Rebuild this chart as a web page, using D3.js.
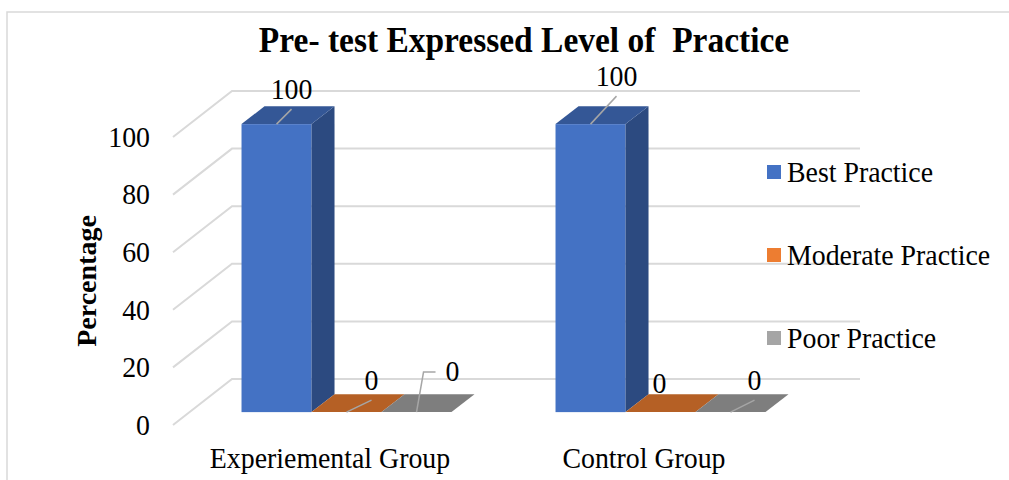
<!DOCTYPE html>
<html lang="en">
<head>
    <meta charset="UTF-8">
    <title>Pre- test Expressed Level of Practice</title>
    <script src="https://cdn.jsdelivr.net/npm/d3@7"></script>
    <style>
        body { margin: 0; background: #fff; }
        text { font-family: "Liberation Serif", "Times New Roman", serif; fill: #000; }
    </style>
</head>
<body>
    <div id="chart"></div>
    <script>
        // data
        var categories = ["Experiemental Group", "Control Group"];
        var seriesNames = ["Best Practice", "Moderate Practice", "Poor Practice"];
        var bestPractice = [100, 100];
        var moderatePractice = [0, 0];
        var poorPractice = [0, 0];
        var yTicks = [0, 20, 40, 60, 80, 100];

        var seriesValues = [bestPractice, moderatePractice, poorPractice];
        var colors = ["#4472c4", "#ed7d31", "#a5a5a5"];

        var width = 1009, height = 480;
        // depth of the 3d box (back wall offset) and bar depth range
        var DX = 59, DY = 46, d0 = 0.28, d1 = 0.67;
        var FS = 29, SX = 0.96;   // text looks a bit condensed in the original

        var svg = d3.select("#chart").append("svg")
            .attr("width", width).attr("height", height);

        // condensed text at (x,y)
        function label(g, x, y, txt, size, sx) {
            return g.append("text")
                .attr("transform", "translate(" + x + "," + y + ") scale(" + sx + ",1)")
                .style("font-size", size + "px")
                .text(txt);
        }

        // frame
        svg.append("path")
            .attr("d", "M7," + height + "V12H" + width)
            .attr("fill", "none").attr("stroke", "#d9d9d9").attr("stroke-width", 1.5);

        // scales (front floor plane)
        var x0 = d3.scaleBand().domain(categories).range([173, 801]);
        var x1 = d3.scaleBand().domain(seriesNames).range([52, 262]);
        var y = d3.scaleLinear().domain([0, 100]).range([425, 137]);

        function pt(x, v, d) { return [x + DX * d, y(v) - DY * d]; }

        // gridlines: side wall diagonals + back wall
        var grid = svg.append("g").attr("stroke", "#d9d9d9").attr("stroke-width", 2).attr("fill", "none");
        yTicks.forEach(function (t) {
            var a = pt(173, t, 0), b = pt(173, t, 1), c = pt(801, t, 1);
            grid.append("path").attr("d", d3.line()([a, b, c]));
        });

        function styleAxis(g) {
            g.select(".domain").remove();
            g.selectAll("text").style("font-size", FS + "px")
                .style("font-family", "'Liberation Serif', serif").attr("fill", "#000")
                .attr("transform", "scale(" + SX + ",1)");
        }

        // y axis labels
        svg.append("g")
            .attr("transform", "translate(173,0)")
            .call(d3.axisLeft(y).tickValues(yTicks).tickSize(0).tickPadding(24))
            .call(styleAxis);

        // x axis labels
        svg.append("g")
            .attr("transform", "translate(0,425)")
            .call(d3.axisBottom(x0).tickSize(0).tickPadding(22))
            .call(styleAxis);

        // y axis title
        svg.append("text")
            .attr("transform", "translate(96,281) rotate(-90)")
            .attr("text-anchor", "middle")
            .style("font-size", "28px").style("font-weight", "bold")
            .text("Percentage");

        // title
        label(svg, 524, 52, "Pre- test Expressed Level of  Practice", 36, 0.93)
            .attr("text-anchor", "middle")
            .style("font-weight", "bold")
            .style("white-space", "pre");

        // bars
        var bars = svg.append("g");
        categories.forEach(function (cat, ci) {
            seriesNames.forEach(function (s, si) {
                var v = seriesValues[si][ci];
                var xl = x0(cat) + x1(s), xr = xl + x1.bandwidth();
                var c = d3.color(colors[si]);
                var g = bars.append("g");
                var f0 = pt(xl, v, d0), f1 = pt(xr, 0, d0);
                g.append("rect")
                    .attr("x", f0[0]).attr("y", f0[1])
                    .attr("width", f1[0] - f0[0]).attr("height", f1[1] - f0[1])
                    .attr("fill", c.formatHex());
                g.append("path")
                    .attr("d", d3.line()([pt(xr, v, d0), pt(xr, v, d1), pt(xr, 0, d1), pt(xr, 0, d0)]) + "Z")
                    .attr("fill", c.darker(1.2).formatHex());
                g.append("path")
                    .attr("d", d3.line()([pt(xl, v, d0), pt(xr, v, d0), pt(xr, v, d1), pt(xl, v, d1)]) + "Z")
                    .attr("fill", c.darker(0.75).formatHex());
            });
        });

        // data labels, nudged like in the original, with leader lines
        var labelNudge = [
            [[15, -25], [25, -22], [36, -31]],
            [[26, -38], [-1, -19], [24, -22]]
        ];
        var leaders = [
            [true, true, "elbow"],
            [true, false, true]
        ];
        var lab = svg.append("g");
        categories.forEach(function (cat, ci) {
            seriesNames.forEach(function (s, si) {
                var v = seriesValues[si][ci];
                var xc = x0(cat) + x1(s) + x1.bandwidth() / 2;
                var top = pt(xc, v, d0);
                var n = labelNudge[ci][si];
                var lx = top[0] + n[0], ly = top[1] + n[1];
                label(lab, lx, ly, v, FS, SX).attr("text-anchor", "middle");
                var kind = leaders[ci][si];
                if (kind === "elbow") {
                    lab.append("path")
                        .attr("d", d3.line()([[lx - 17, ly - 9], [lx - 29, ly - 9], top]))
                        .attr("fill", "none").attr("stroke", "#a6a6a6").attr("stroke-width", 1.5);
                } else if (kind) {
                    lab.append("path")
                        .attr("d", d3.line()([[lx, ly + 10], top]))
                        .attr("fill", "none").attr("stroke", "#a6a6a6").attr("stroke-width", 1.5);
                }
            });
        });

        // legend
        var legend = svg.append("g");
        seriesNames.forEach(function (s, i) {
            var cy = 172 + i * 83;
            legend.append("rect")
                .attr("x", 767).attr("y", cy - 7).attr("width", 14).attr("height", 14)
                .attr("fill", colors[i]);
            label(legend, 787, cy + 10, s, FS, SX);
        });
    </script>
</body>
</html>
